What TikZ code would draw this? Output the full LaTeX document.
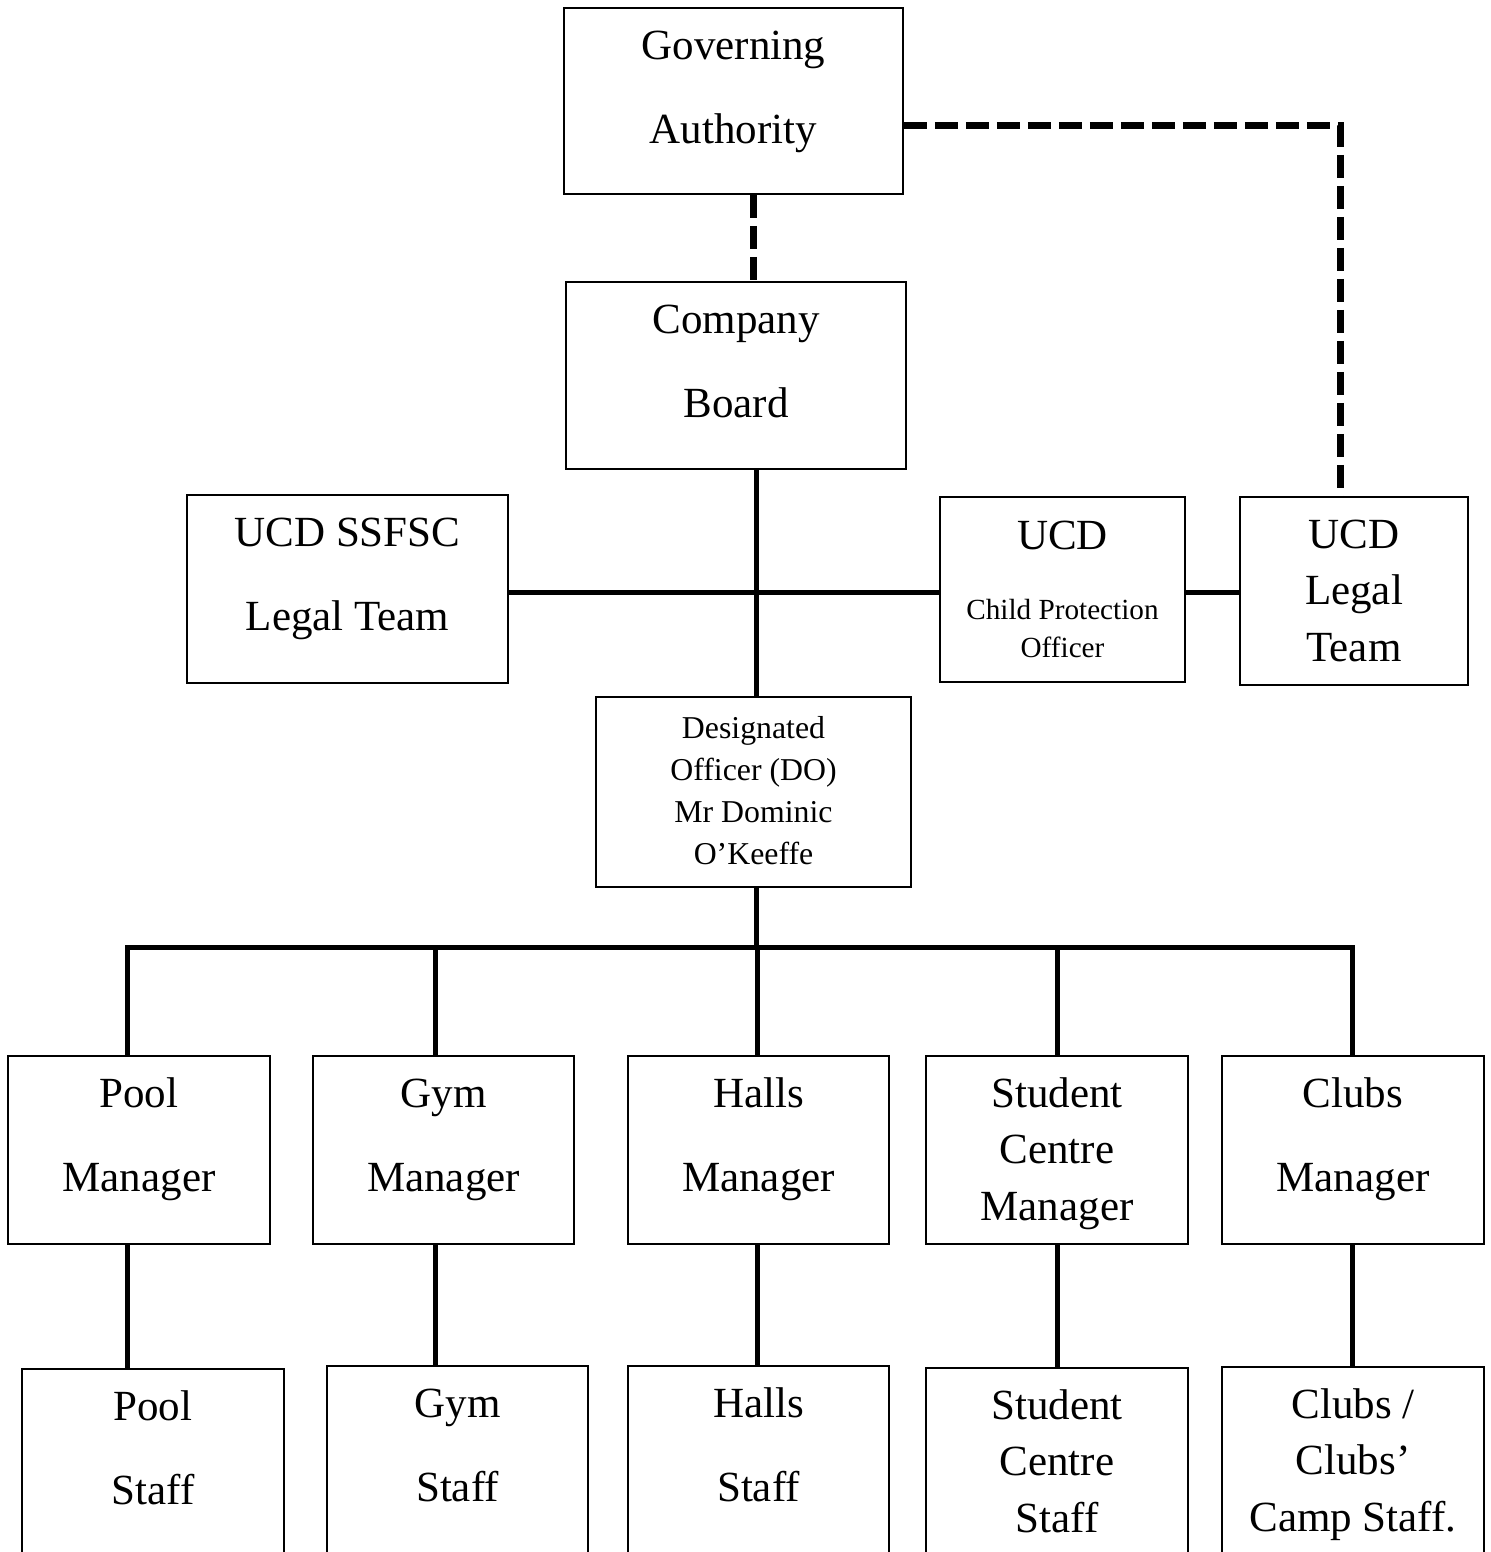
\documentclass[tikz,border=0pt]{standalone}
\usepackage{fontspec}
\setmainfont{Liberation Serif}

\newcommand{\lnwide}{\fontsize{21.5pt}{42pt}\selectfont}
\newcommand{\lntight}{\fontsize{21.5pt}{28.25pt}\selectfont}
\newcommand{\fstrut}{\rule{0pt}{25.5pt}}
\newcommand{\boxtxt}[3]{\parbox[c][\dimexpr#2pt/2\relax][t]{\dimexpr#1pt/2\relax}{\centering#3}}

\begin{document}
\begin{tikzpicture}[x=0.5pt,y=-0.5pt,
  unit/.style={draw,line width=0.8pt,inner sep=0pt,font=\lnwide},
  link/.style={line width=2.5pt},
  dashlink/.style={line width=3.5pt,dash pattern=on 11.5pt off 4pt}]
\useasboundingbox (0,0) rectangle (1491,1552);

\node[unit] (gov) at (733.5,101) {\boxtxt{339}{186}{\fstrut Governing\\Authority}};
\node[unit] (board) at (736,375.5) {\boxtxt{340}{187}{\fstrut Company\\Board}};
\node[unit] (ssfsc) at (347.5,589) {\boxtxt{321}{188}{\fstrut UCD SSFSC\\Legal Team}};
\node[unit] (cpo) at (1062.5,589.5) {\boxtxt{245}{185}{\fontsize{21.5pt}{19pt}\selectfont\rule{0pt}{26pt}UCD\\[16pt]{\fontsize{14.6pt}{19pt}\selectfont Child Protection\\Officer}}};
\node[unit] (legal) at (1354,591) {\boxtxt{228}{188}{\lntight\fstrut UCD\\Legal\\Team}};
\node[unit] (do) at (753.5,792) {\boxtxt{315}{190}{\fontsize{15.9pt}{21pt}\selectfont\rule{0pt}{20.5pt}Designated\\Officer (DO)\\Mr Dominic\\O’Keeffe}};

% managers
\node[unit] (poolman) at (139,1150) {\boxtxt{262}{188}{\fstrut Pool\\Manager}};
\node[unit] (gymman) at (443.5,1150) {\boxtxt{261}{188}{\fstrut Gym\\Manager}};
\node[unit] (hallsman) at (758.5,1150) {\boxtxt{261}{188}{\fstrut Halls\\Manager}};
\node[unit] (studman) at (1057,1150) {\boxtxt{262}{188}{\lntight\fstrut Student\\Centre\\Manager}};
\node[unit] (clubsman) at (1353,1150) {\boxtxt{262}{188}{\fstrut Clubs\\Manager}};

% staff
\node[unit] (poolstaff) at (153,1463) {\boxtxt{262}{188}{\fstrut Pool\\Staff}};
\node[unit] (gymstaff) at (457.5,1460) {\boxtxt{261}{188}{\fstrut Gym\\Staff}};
\node[unit] (hallsstaff) at (758.5,1460) {\boxtxt{261}{188}{\fstrut Halls\\Staff}};
\node[unit] (studstaff) at (1057,1462) {\boxtxt{262}{188}{\lntight\fstrut Student\\Centre\\Staff}};
\node[unit] (clubsstaff) at (1353,1461) {\boxtxt{262}{188}{\lntight\fstrut Clubs /\\Clubs’\\Camp Staff.}};

\coordinate (gb) at (753,238);
\coordinate (bend) at (1340,126);
\coordinate (hub) at (756,592);
\coordinate (b1) at (127,947);
\coordinate (b2) at (435,947);
\coordinate (b3) at (757,947);
\coordinate (b4) at (1057,947);
\coordinate (b5) at (1352,947);

\draw[dashlink] (gov.south -| gb) -- (board.north -| gb);
\draw[dashlink] (gov.east |- bend) -- (bend) -- (legal.north -| bend);

\draw[link] (board.south -| hub) -- (do.north -| hub);
\draw[link] (ssfsc.east |- hub) -- (cpo.west |- hub);
\draw[link] (cpo.east |- hub) -- (legal.west |- hub);
\draw[link] (do.south -| hub) -- (hub |- b3);

\draw[link] (poolman.north -| b1) -- (b1) -- (b5) -- (clubsman.north -| b5);
\foreach \i/\n in {2/gym,3/halls,4/stud}
  \draw[link] (b\i) -- (\n man.north -| b\i);
\foreach \i/\n in {1/pool,2/gym,3/halls,4/stud,5/clubs}
  \draw[link] (\n man.south -| b\i) -- (\n staff.north -| b\i);
\end{tikzpicture}
\end{document}
